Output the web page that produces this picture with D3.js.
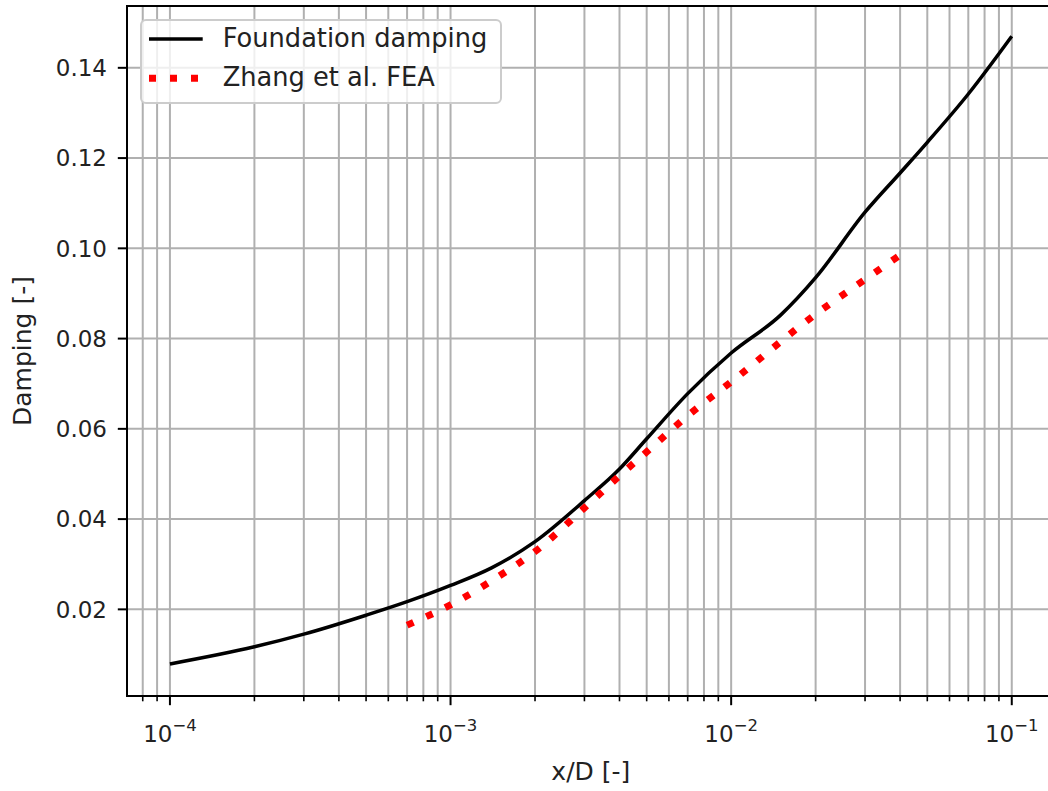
<!DOCTYPE html>
<html>
<head>
<meta charset="utf-8">
<script src="https://cdn.jsdelivr.net/npm/d3@7"></script>
<style>
  html, body { margin: 0; padding: 0; background: #fff; }
  svg { display: block; font-family: "DejaVu Sans", sans-serif; }
</style>
</head>
<body>
<svg id="chart" width="1048" height="791"></svg>
<script>
// Foundation damping curve (x/D, damping)
const foundationX = [1e-4, 2e-4, 3e-4, 5e-4, 7e-4, 1e-3, 1.4e-3, 2e-3, 3e-3, 4e-3, 5e-3, 7e-3,
                     1e-2, 1.5e-2, 2e-2, 3e-2, 4e-2, 5e-2, 7e-2, 1e-1];
const foundationY = [0.0079, 0.0117, 0.0145, 0.0187, 0.0217, 0.0253, 0.0292, 0.0350, 0.0441, 0.0511,
                     0.0578, 0.0678, 0.0768, 0.0852, 0.0935, 0.1080, 0.1167, 0.1235, 0.1342, 0.1470];

// Zhang et al. finite element results
const zhangX = [7e-4, 1e-3, 1.5e-3, 2e-3, 3e-3, 4e-3, 5e-3, 7e-3, 1e-2, 2e-2, 3e-2, 4e-2];
const zhangY = [0.0165, 0.0210, 0.0275, 0.0328, 0.0425, 0.0496, 0.0549, 0.0629, 0.0704, 0.0854, 0.0931, 0.0985];

// Axis limits and ticks
const xLimits = [Math.pow(10, -4.153), Math.pow(10, -0.847)];
const yLimits = [0.0008, 0.1537];
const xMajorTicks = [1e-4, 1e-3, 1e-2, 1e-1];
const xTickExponents = ["\u22124", "\u22123", "\u22122", "\u22121"];
const yTicks = [0.02, 0.04, 0.06, 0.08, 0.10, 0.12, 0.14];
const yTickLabels = ["0.02", "0.04", "0.06", "0.08", "0.10", "0.12", "0.14"];

const seriesNames = ["Foundation damping", "Zhang et al. FEA"];

const svg = d3.select("#chart");
const plot = { left: 127, right: 1054.7, top: 6, bottom: 696 };

const x = d3.scaleLog().domain(xLimits).range([plot.left, plot.right]);
const y = d3.scaleLinear().domain(yLimits).range([plot.bottom, plot.top]);

// Minor x ticks: 2..9 times each decade, kept inside the axes
const xMinorTicks = [];
for (let e = -5; e <= -1; e++) {
  for (let m = 2; m <= 9; m++) {
    const v = m * Math.pow(10, e);
    if (v >= xLimits[0] && v <= xLimits[1]) xMinorTicks.push(v);
  }
}

const gridColor = "#b0b0b0";
const gridW = 2;

// Grid lines
const grid = svg.append("g");
grid.selectAll("line.xminor").data(xMinorTicks).join("line")
  .attr("x1", d => x(d)).attr("x2", d => x(d))
  .attr("y1", plot.top).attr("y2", plot.bottom)
  .attr("stroke", gridColor).attr("stroke-width", gridW);
grid.selectAll("line.xmajor").data(xMajorTicks).join("line")
  .attr("x1", d => x(d)).attr("x2", d => x(d))
  .attr("y1", plot.top).attr("y2", plot.bottom)
  .attr("stroke", gridColor).attr("stroke-width", gridW);
grid.selectAll("line.y").data(yTicks).join("line")
  .attr("x1", plot.left).attr("x2", plot.right)
  .attr("y1", d => y(d)).attr("y2", d => y(d))
  .attr("stroke", gridColor).attr("stroke-width", gridW);

// Data lines
const line = d3.line().x(d => x(d[0])).y(d => y(d[1])).curve(d3.curveMonotoneX);
const foundation = foundationX.map((v, i) => [v, foundationY[i]]);
const zhang = zhangX.map((v, i) => [v, zhangY[i]]);

svg.append("path").datum(foundation)
  .attr("d", line).attr("fill", "none")
  .attr("stroke", "#000").attr("stroke-width", 3.5)
  .attr("stroke-linejoin", "round").attr("stroke-linecap", "butt");

svg.append("path").datum(zhang)
  .attr("d", line).attr("fill", "none")
  .attr("stroke", "red").attr("stroke-width", 7)
  .attr("stroke-dasharray", "7 14").attr("stroke-linecap", "butt");

// Spines
svg.append("rect")
  .attr("x", plot.left).attr("y", plot.top)
  .attr("width", plot.right - plot.left).attr("height", plot.bottom - plot.top)
  .attr("fill", "none").attr("stroke", "#000").attr("stroke-width", 2);

// X axis ticks
const xAxis = svg.append("g").attr("transform", `translate(0,${plot.bottom})`);
xAxis.selectAll("line.minor").data(xMinorTicks).join("line")
  .attr("x1", d => x(d)).attr("x2", d => x(d)).attr("y1", 0).attr("y2", 5.3)
  .attr("stroke", "#000").attr("stroke-width", 1.6);
xAxis.selectAll("line.major").data(xMajorTicks).join("line")
  .attr("x1", d => x(d)).attr("x2", d => x(d)).attr("y1", 0).attr("y2", 9.2)
  .attr("stroke", "#000").attr("stroke-width", 2);
const xl = xAxis.selectAll("text").data(xMajorTicks).join("text")
  .attr("x", d => x(d)).attr("y", 45.5)
  .attr("text-anchor", "middle").attr("font-size", 23).attr("fill", "#222");
xl.append("tspan").text("10");
xl.append("tspan").attr("font-size", 16.5).attr("dy", -10.5)
  .text((d, i) => xTickExponents[i]);

// Y axis ticks
const yAxis = svg.append("g").attr("transform", `translate(${plot.left},0)`);
yAxis.selectAll("line").data(yTicks).join("line")
  .attr("x1", -9.2).attr("x2", 0).attr("y1", d => y(d)).attr("y2", d => y(d))
  .attr("stroke", "#000").attr("stroke-width", 2);
yAxis.selectAll("text").data(yTicks).join("text")
  .attr("x", -20).attr("y", d => y(d)).attr("dy", "0.36em")
  .attr("text-anchor", "end").attr("font-size", 23).attr("fill", "#222")
  .text((d, i) => yTickLabels[i]);

// Axis labels
svg.append("text")
  .attr("x", (plot.left + plot.right) / 2).attr("y", 780)
  .attr("text-anchor", "middle").attr("font-size", 25).attr("fill", "#222")
  .text("x/D [-]");
svg.append("text")
  .attr("transform", `translate(31,${(plot.top + plot.bottom) / 2}) rotate(-90)`)
  .attr("text-anchor", "middle").attr("font-size", 25).attr("fill", "#222")
  .text("Damping [-]");

// Legend
const legend = svg.append("g").attr("transform", "translate(141,20)");
legend.append("rect")
  .attr("width", 360).attr("height", 83).attr("rx", 5)
  .attr("fill", "#fff").attr("fill-opacity", 0.8)
  .attr("stroke", "#cccccc").attr("stroke-width", 2);
const rows = [
  { stroke: "#000", width: 3.5, dash: null },
  { stroke: "red", width: 7, dash: "7 14" }
];
rows.forEach((r, i) => {
  const cy = 19 + i * 39.3;
  legend.append("line")
    .attr("x1", 8).attr("x2", 61.7).attr("y1", cy).attr("y2", cy)
    .attr("stroke", r.stroke).attr("stroke-width", r.width)
    .attr("stroke-dasharray", r.dash);
  legend.append("text")
    .attr("x", 81.7).attr("y", cy + 7.5)
    .attr("font-size", 25.7).attr("fill", "#222")
    .text(seriesNames[i]);
});
</script>
</body>
</html>
